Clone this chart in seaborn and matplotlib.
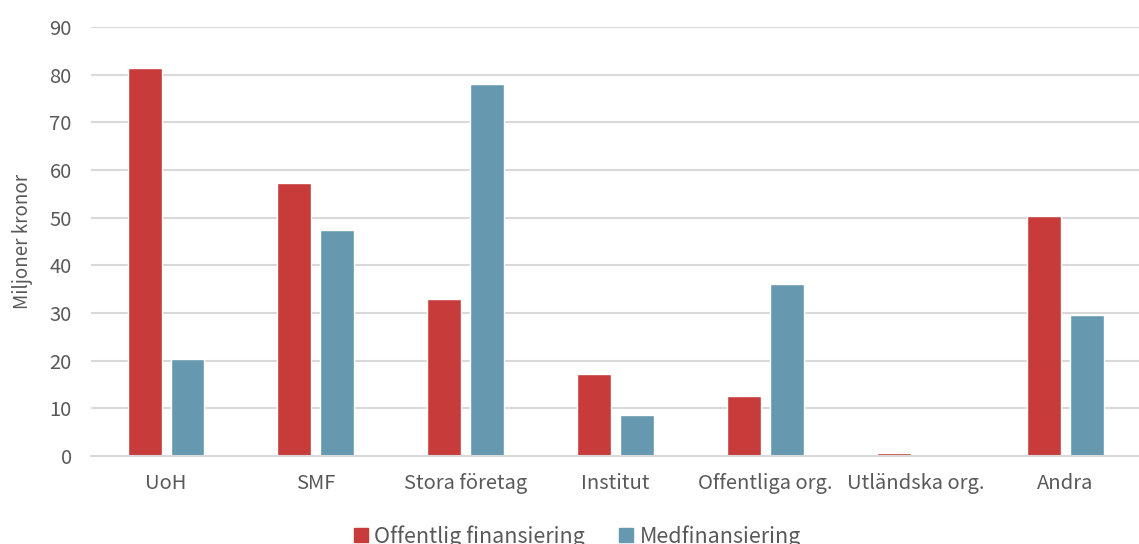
import matplotlib
matplotlib.use("Agg")
import matplotlib.pyplot as plt
import seaborn as sns
import pandas as pd

categories = ["UoH", "SMF", "Stora företag", "Institut", "Offentliga org.", "Utländska org.", "Andra"]
offentlig = [81.4, 57.3, 32.9, 17.1, 12.6, 0.6, 50.4]
medfin = [20.3, 47.5, 78.1, 8.6, 36.1, 0.0, 29.6]
series = ["Offentlig finansiering", "Medfinansiering"]
colors = ["#C73B3B", "#6699B0"]
yticks = [0, 10, 20, 30, 40, 50, 60, 70, 80, 90]

df = pd.DataFrame({
    "Aktör": categories * 2,
    "Värde": offentlig + medfin,
    "Serie": [series[0]] * len(categories) + [series[1]] * len(categories),
})

sns.set_theme(style="white")
plt.rcParams["font.family"] = ["Noto Sans CJK JP", "DejaVu Sans"]
text_color = "#595959"

fig = plt.figure(figsize=(11.39, 5.44), dpi=100)
ax = fig.add_axes([0.080, 0.1618, 0.921, 0.7886])

sns.barplot(data=df, x="Aktör", y="Värde", hue="Serie", order=categories,
            hue_order=series, palette=colors, width=0.573, gap=0.21,
            saturation=1, ax=ax, legend=False)

ax.set_xlim(-0.5, 6.5)
ax.set_ylim(0, 90)
ax.set_yticks(yticks)
ax.yaxis.grid(True, color="#D9D9D9", linewidth=1.5)
ax.set_axisbelow(True)
for s in ["left", "right", "top"]:
    ax.spines[s].set_visible(False)
ax.spines["bottom"].set_color("#D9D9D9")
ax.spines["bottom"].set_linewidth(1.5)
ax.tick_params(axis="both", length=0, labelsize=14.5, labelcolor=text_color)
ax.tick_params(axis="y", pad=14)
ax.tick_params(axis="x", pad=12)
ax.set_xlabel("")
ax.set_ylabel("Miljoner kronor", fontsize=13.5, color=text_color, labelpad=12)

handles = [plt.Rectangle((0, 0), 1, 1, color=c) for c in colors]
fig.legend(handles, series, loc="center", bbox_to_anchor=(0.507, 0.014), ncol=2,
           frameon=False, fontsize=15.5, labelcolor=text_color,
           handlelength=0.65, handleheight=0.65, handletextpad=0.3, columnspacing=1.6)

fig.savefig("out.png", dpi=100)
